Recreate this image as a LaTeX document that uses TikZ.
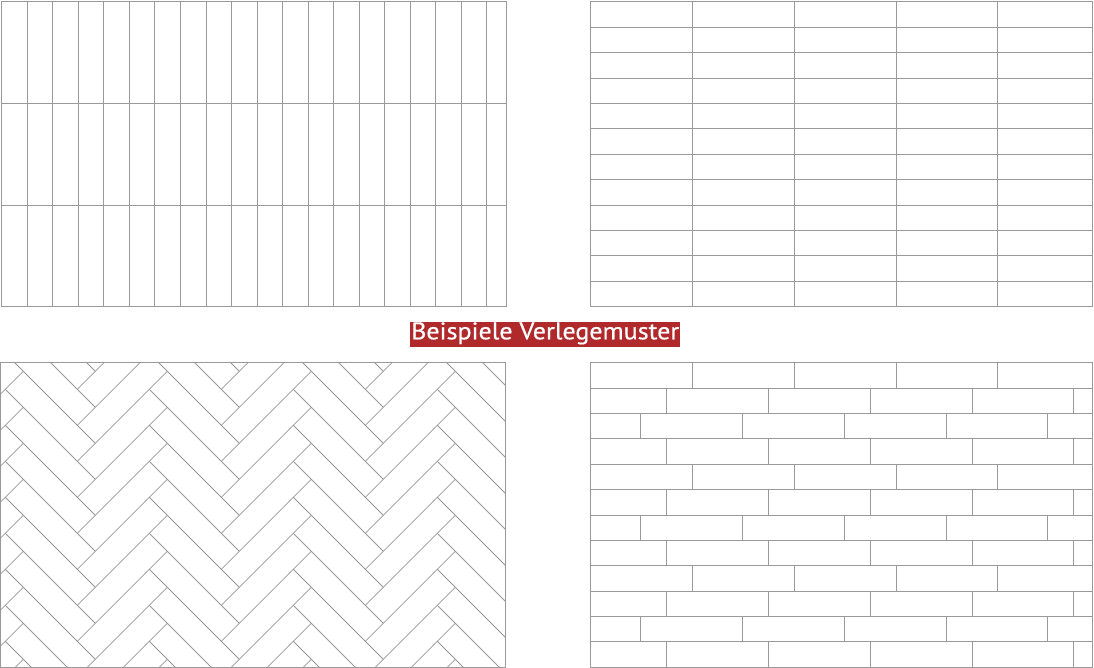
\documentclass[tikz,border=0pt]{standalone}
\usepackage{fontspec}
\setmainfont{PT Sans}
\newfontfamily\titlefont{PT Sans}[FakeBold=0.5]
\definecolor{tileline}{HTML}{999999}
\definecolor{titlered}{RGB}{176,42,44}
\begin{document}
\begin{tikzpicture}[x=1pt,y=-1pt,
  tile/.style={draw=tileline, line width=0.8pt},
  titlebox/.style={fill=titlered, text=white, inner xsep=1pt, inner ysep=0pt,
    text height=17.6pt, text depth=7.4pt, anchor=base, font=\titlefont}]
\useasboundingbox (0,0) rectangle (1094,668);
\fill[white] (0,0) rectangle (1094,668);

% ---- top left: vertical planks, stack bond
\foreach \k in {1,...,19} \draw[tile] ({1.7+25.53*\k},1.7) -- ({1.7+25.53*\k},306.7);
\foreach \k in {1,2} \draw[tile] (1.7,{1.7+101.67*\k}) -- (506.7,{1.7+101.67*\k});
\draw[tile] (1.7,1.7) rectangle (506.7,306.7);

% ---- top right: horizontal planks, stack bond
\foreach \k in {1,...,11} \draw[tile] (590.7,{1.7+25.417*\k}) -- (1092.7,{1.7+25.417*\k});
\foreach \k in {1,...,4} \draw[tile] ({590.7+101.75*\k},1.7) -- ({590.7+101.75*\k},306.7);
\draw[tile] (590.7,1.7) rectangle (1092.7,306.7);

% ---- bottom right: offset bond
\begin{scope}
\clip (590.7,362.7) rectangle (1092.7,667.3);
\foreach \k in {1,...,11} \draw[tile] (590.7,{362.7+25.38*\k}) -- (1092.7,{362.7+25.38*\k});
\foreach \r in {0,...,11} {
  \pgfmathsetmacro\off{ifthenelse(mod(\r,4)==0,101.75,ifthenelse(mod(\r,4)==2,50,76))}
  \foreach \k in {0,...,4} {
    \draw[tile] ({590.7+\off+101.75*\k},{362.7+25.38*\r}) -- ({590.7+\off+101.75*\k},{362.7+25.38*(\r+1)});
  }
}
\end{scope}
\draw[tile] (590.7,362.7) rectangle (1092.7,667.3);

% ---- bottom left: herringbone
\begin{scope}
\clip (0.7,362.2) rectangle (505.5,667.3);
\foreach \j in {-1,...,4} {
  \foreach \n in {-2,...,10} {
    \draw[tile] ({-48.7+54+144*\j},{371.3-90+36*\n}) -- ({-48.7+144+144*\j},{371.3+36*\n});
    \draw[tile] ({-48.7-18+144*\j},{371.3+18+36*\n}) -- ({-48.7+72+144*\j},{371.3-72+36*\n});
  }
}
\end{scope}
\draw[tile] (0.7,362.2) rectangle (505.5,667.3);

% ---- title
\node[titlebox] (title) at (545.2,339.3) {\resizebox{268pt}{17pt}{\fontsize{22pt}{22pt}\selectfont Beispiele Verlegemuster}};
\end{tikzpicture}
\end{document}
